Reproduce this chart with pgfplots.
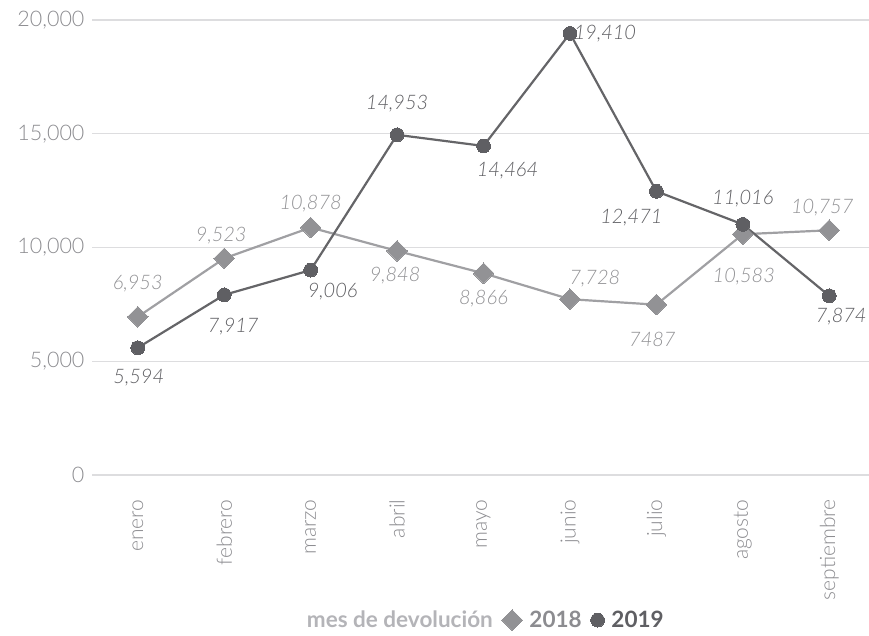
\documentclass[border=0pt]{standalone}
\usepackage{fontspec}
\setmainfont{Lato}
\newfontfamily\lightfont{Lato Light}
\usepackage{pgfplots}
\usepackage{pgfplotstable}
\pgfplotsset{compat=1.18}
\definecolor{ticktxt}{HTML}{8C8C90}
\definecolor{gridc}{HTML}{DDDDDF}
\definecolor{lineA}{HTML}{A0A0A3}
\definecolor{markA}{HTML}{929295}
\definecolor{lineB}{HTML}{656568}
\definecolor{markB}{HTML}{5F5F63}
\definecolor{legtitle}{HTML}{B4B4B8}
\pgfplotsset{markonly/.style={legend image code/.code={\draw[##1] plot coordinates {(0.3cm,0cm)};}}}

\pgfplotstableread{
x y lab dx dy
0 6953 6,953 0 33
1 9523 9,523 -3 23
2 10878 10,878 0 24
3 9848 9,848 -2 -25
4 8866 8,866 0 -25
5 7728 7,728 25 21
6 7487 7487 -4 -35
7 10583 10,583 1 -42
8 10757 10,757 -7 23
}\dataA

\pgfplotstableread{
x y lab dx dy
0 5594 5,594 1 -30
1 7917 7,917 9 -32
2 9006 9,006 22 -21
3 14953 14,953 0 31
4 14464 14,464 24 -25
5 19410 19,410 35 0
6 12471 12,471 -25 -26
7 11016 11,016 0 26
8 7874 7,874 12 -21
}\dataB

\begin{document}
\begin{tikzpicture}
\begin{axis}[
  scale only axis,
  width=777pt, height=455pt,
  xmin=-0.53, xmax=8.46,
  ymin=0, ymax=20000,
  xtick={0,...,8},
  xticklabels={enero,febrero,marzo,abril,mayo,junio,julio,agosto,septiembre},
  ytick={0,5000,10000,15000,20000},
  ymajorgrids,
  grid style={color=gridc, line width=1.3pt},
  axis line style={draw=none},
  major tick length=0pt,
  scaled y ticks=false,
  /pgf/number format/.cd, 1000 sep={,}, assume math mode=true, /pgfplots/.cd,
  yticklabel style={font=\fontsize{21.5}{21.5}\selectfont\lightfont, text=ticktxt, xshift=-4pt},
  xticklabel style={font=\fontsize{21}{21}\selectfont\lightfont, text=ticktxt, rotate=90, anchor=east, xshift=-21pt},
  clip=false,
  legend columns=3,
  legend style={draw=none, at={(0.503,-0.319)}, anchor=center,
    font=\fontsize{22.5}{22.5}\selectfont\bfseries,
    /tikz/every even column/.append style={column sep=7pt},
    /tikz/every odd column/.append style={column sep=5pt}},
  legend cell align=left,
]
\addlegendimage{empty legend}
\addlegendentry{\textcolor{legtitle}{mes de devolución}}

\addplot[color=lineA, line width=2.2pt, mark=square*, mark size=7.3pt,
  mark options={rotate=45, fill=markA, draw=markA, line width=0pt},
  markonly,
  nodes near coords, point meta=explicit symbolic,
  visualization depends on={\thisrow{dx}\as\dx},
  visualization depends on={\thisrow{dy}\as\dy},
  every node near coord/.append style={anchor=center, xshift=\dx pt, yshift=\dy pt,
    font=\fontsize{20}{20}\selectfont\lightfont\itshape, text=markA}
] table[x=x, y=y, meta=lab] {\dataA};
\addlegendentry{\textcolor{ticktxt}{2018}}

\addplot[color=lineB, line width=2.2pt, mark=*, mark size=6.9pt,
  mark options={fill=markB, draw=markB, line width=0pt},
  markonly,
  nodes near coords, point meta=explicit symbolic,
  visualization depends on={\thisrow{dx}\as\dx},
  visualization depends on={\thisrow{dy}\as\dy},
  every node near coord/.append style={anchor=center, xshift=\dx pt, yshift=\dy pt,
    font=\fontsize{20}{20}\selectfont\lightfont\itshape, text=markB}
] table[x=x, y=y, meta=lab] {\dataB};
\addlegendentry{\textcolor{markB}{2019}}
\end{axis}
\pgfresetboundingbox
\path (-92pt,-160pt) rectangle (777pt,475pt);
\end{tikzpicture}
\end{document}
